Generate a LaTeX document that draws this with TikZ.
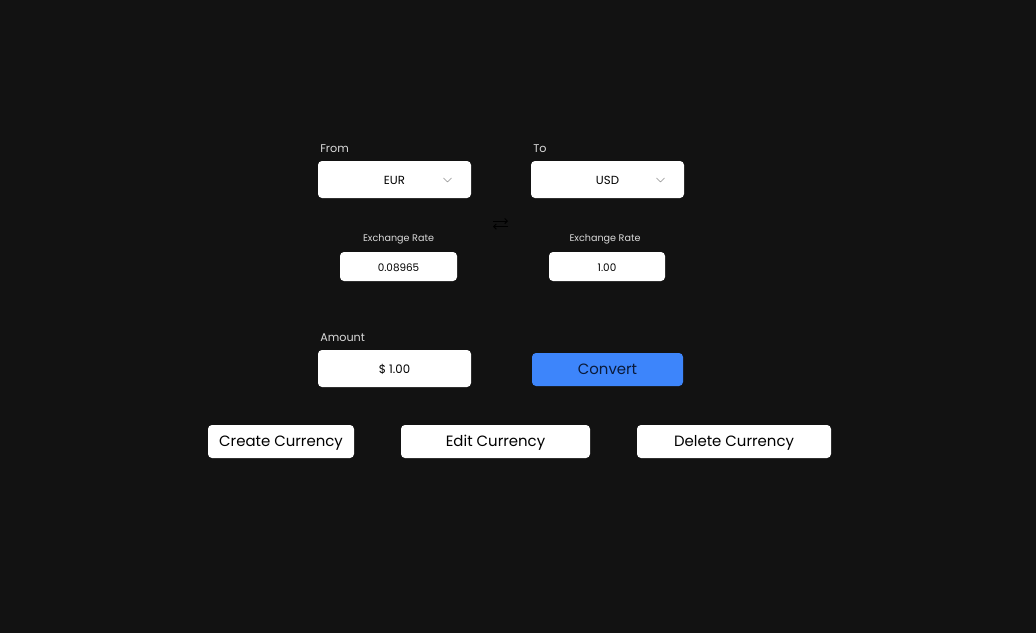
\documentclass[tikz,border=0pt]{standalone}
\usepackage{fontspec}
\setmainfont{Poppins}
\usetikzlibrary{arrows.meta}
\definecolor{bg}{HTML}{121212}
\definecolor{btnblue}{HTML}{3D85FB}
\definecolor{navy}{HTML}{0A1A3A}
\definecolor{lbl}{HTML}{DADADA}
\begin{document}
\begin{tikzpicture}[x=0.75pt,y=-0.75pt,
		field/.style={fill=white,rounded corners=3pt,inner sep=0pt,text height=0.7em,text depth=0pt,text=black,font=\fontsize{8.8}{10}\selectfont},
		rate/.style={field,font=\fontsize{7.8}{9}\selectfont},
		btn/.style={field,font=\fontsize{11.2}{13}\selectfont},
		caption/.style={anchor=base west,inner sep=0pt,text=lbl,font=\fontsize{8.4}{10}\selectfont},
		small/.style={anchor=base,inner sep=0pt,text=lbl,font=\fontsize{7.2}{8}\selectfont},
		chev/.style={draw=black!45,line width=0.5pt,line cap=round,line join=round}]
		\fill[bg] (0,0) rectangle (1036,633);
		
		%currency selectors
		\node[caption] (from) at (320,152) {From};
		\node[caption] (to) at (533,152) {To};
		\node[field,minimum width=114.75pt,minimum height=27.75pt] (eur) at (394.5,179.5) {EUR};
		\node[field,minimum width=114.75pt,minimum height=27.75pt] (usd) at (607.5,179.5) {USD};
		\draw[chev] (443.5,178) -- (447.5,182) -- (451.5,178);
		\draw[chev] (656.5,178) -- (660.5,182) -- (664.5,178);
		
		%swap icon
		\draw[black,line width=0.7pt,-{Straight Barb[length=2pt]}] (493,221) -- (508,221);
		\draw[black,line width=0.7pt,-{Straight Barb[length=2pt]}] (508,226.5) -- (493,226.5);
		
		%exchange rates
		\node[small] (lrate) at (398.5,241.5) {Exchange Rate};
		\node[small] (rrate) at (605,241.5) {Exchange Rate};
		\node[rate,minimum width=87.75pt,minimum height=21.75pt] (eurrate) at (398.5,266.5) {0.08965};
		\node[rate,minimum width=87pt,minimum height=21.75pt] (usdrate) at (607,266.5) {1.00};
		
		%amount and convert
		\node[caption] (amount) at (320,341) {Amount};
		\node[field,minimum width=114.75pt,minimum height=27.75pt] (amt) at (394.5,368.5) {\$ 1.00};
		\node[btn,fill=btnblue,text=navy,minimum width=113.25pt,minimum height=24.75pt] (convert) at (607.5,369.5) {Convert};
		
		%currency buttons
		\node[btn,minimum width=109.5pt,minimum height=24.75pt] (create) at (281,441.5) {Create Currency};
		\node[btn,minimum width=141.75pt,minimum height=24.75pt] (edit) at (495.5,441.5) {Edit Currency};
		\node[btn,minimum width=145.5pt,minimum height=24.75pt] (delete) at (734,441.5) {Delete Currency};
		
	\end{tikzpicture}
\end{document}
